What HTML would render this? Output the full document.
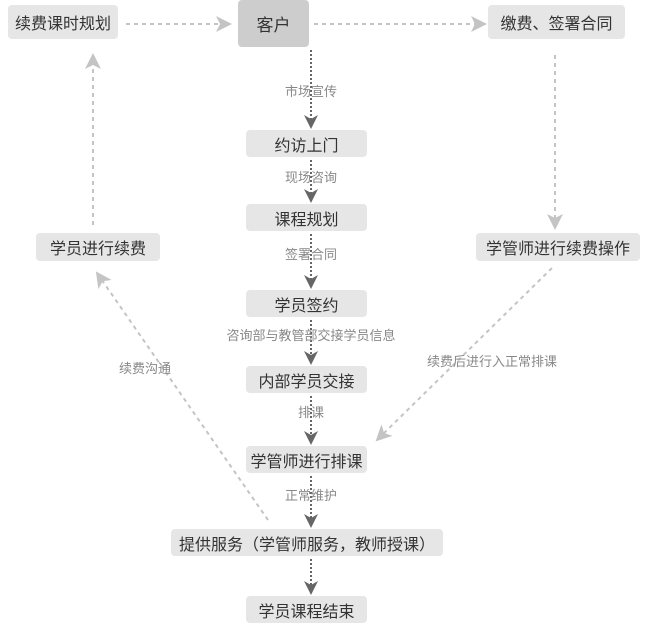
<!DOCTYPE html>
<html><head><meta charset="utf-8"><style>
body{margin:0;background:#fff;width:655px;height:631px;position:relative;overflow:hidden;font-family:"Liberation Sans","Noto Sans CJK SC",sans-serif}
.b{position:absolute;background:#e6e6e6;border-radius:4px;color:#333;font-size:16px;display:flex;align-items:center;justify-content:center}
.l{position:absolute;color:#888;font-size:13px;white-space:nowrap;transform:translateX(-50%)}
svg{position:absolute;left:0;top:0}
</style></head><body>
<svg width="655" height="631">
<defs>
<marker id="d" markerWidth="14" markerHeight="14" refX="12" refY="7" orient="auto" markerUnits="userSpaceOnUse"><path d="M0,0L14,7L0,14L4,7Z" fill="#666"/></marker>
<marker id="g" markerWidth="16" markerHeight="16" refX="14" refY="8" orient="auto" markerUnits="userSpaceOnUse"><path d="M0,0L16,8L0,16L4,8Z" fill="#c4c4c4"/></marker>
</defs>
<g stroke="#666" stroke-width="2" stroke-dasharray="2,2" fill="none" marker-end="url(#d)">
<line x1="311" y1="50" x2="311" y2="127"/>
<line x1="311" y1="160" x2="311" y2="201"/>
<line x1="311" y1="234" x2="311" y2="287"/>
<line x1="311" y1="320" x2="311" y2="363"/>
<line x1="311" y1="396" x2="311" y2="443"/>
<line x1="311" y1="476" x2="311" y2="526"/>
<line x1="311" y1="559" x2="311" y2="593"/>
</g>
<g stroke="#c4c4c4" stroke-width="2" stroke-dasharray="4,4" fill="none" marker-end="url(#g)">
<line x1="126" y1="24" x2="230" y2="24"/>
<line x1="314" y1="24" x2="485" y2="24"/>
<line x1="555" y1="55" x2="555" y2="228"/>
<line x1="93" y1="225" x2="93" y2="55"/>
<line x1="268" y1="520" x2="97" y2="273"/>
<line x1="552" y1="268" x2="377" y2="440"/>
</g>
</svg>
<div class="b" style="left:8px;top:5px;width:110px;height:34px">续费课时规划</div>
<div class="b" style="left:238px;top:0;width:71px;height:47px;background:#cdcdcd;font-size:17px">客户</div>
<div class="b" style="left:488px;top:5px;width:137px;height:34px">缴费、签署合同</div>
<div class="b" style="left:246px;top:130px;width:121px;height:27px">约访上门</div>
<div class="b" style="left:246px;top:204px;width:121px;height:27px">课程规划</div>
<div class="b" style="left:246px;top:290px;width:121px;height:27px">学员签约</div>
<div class="b" style="left:246px;top:366px;width:121px;height:27px">内部学员交接</div>
<div class="b" style="left:246px;top:446px;width:121px;height:27px">学管师进行排课</div>
<div class="b" style="left:171px;top:529px;width:272px;height:27px">提供服务（学管师服务，教师授课）</div>
<div class="b" style="left:246px;top:596px;width:121px;height:27px">学员课程结束</div>
<div class="b" style="left:36px;top:233px;width:124px;height:28px">学员进行续费</div>
<div class="b" style="left:476px;top:233px;width:164px;height:28px">学管师进行续费操作</div>
<div class="l" style="left:311px;top:81px">市场宣传</div>
<div class="l" style="left:311px;top:167px">现场咨询</div>
<div class="l" style="left:311px;top:244px">签署合同</div>
<div class="l" style="left:311px;top:325px">咨询部与教管部交接学员信息</div>
<div class="l" style="left:311px;top:402px">排课</div>
<div class="l" style="left:311px;top:485px">正常维护</div>
<div class="l" style="left:145px;top:358px">续费沟通</div>
<div class="l" style="left:492px;top:351px">续费后进行入正常排课</div>
</body></html>
